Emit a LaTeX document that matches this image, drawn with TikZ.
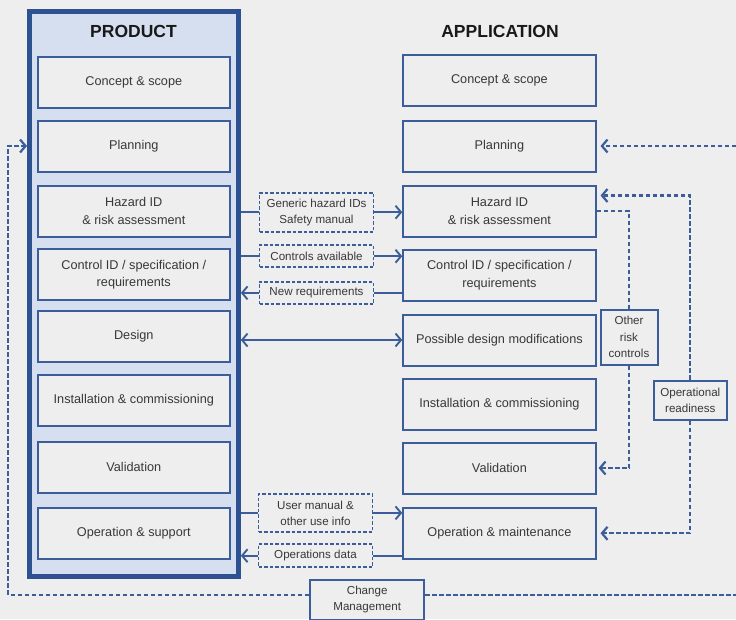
\documentclass[tikz,border=0pt]{standalone}
\usepackage{fontspec}
\setmainfont{Liberation Sans}
\usetikzlibrary{arrows.meta,calc}
\definecolor{bg}{HTML}{EEEEEE}
\definecolor{bblue}{HTML}{3B5E9A}
\definecolor{dblue}{HTML}{2D5191}
\definecolor{lblue}{HTML}{D5DFEF}
\definecolor{txt}{HTML}{383838}
\begin{document}
\begin{tikzpicture}[x=1pt,y=-1pt,
  frame/.style={draw=dblue, line width=5pt, fill=lblue, inner sep=0pt},
  title/.style={font=\bfseries\fontsize{17.5}{20}\selectfont, text=black!90},
  box/.style={draw=bblue, line width=2pt, fill=bg, minimum width=192.3pt, minimum height=51pt,
    inner sep=1pt, align=center, text=txt, font=\fontsize{12.7}{17.5}\selectfont},
  dbox/.style={draw=bblue, line width=1.9pt, dash pattern=on 3.5pt off 2pt, fill=bg,
    minimum width=114pt, inner sep=1pt, align=center, text=txt, font=\fontsize{11.6}{16}\selectfont},
  sbox/.style={draw=bblue, line width=2pt, fill=bg, inner sep=1pt, align=center, text=txt,
    font=\fontsize{11.6}{16.5}\selectfont},
  conn/.style={draw=bblue, line width=1.9pt},
  dconn/.style={conn, line width=2.2pt, dash pattern=on 4.5pt off 2.5pt},
  arr/.style={-{Straight Barb[length=5.5pt,width=13pt]}},
  arrboth/.style={{Straight Barb[length=5.5pt,width=13pt]}-{Straight Barb[length=5.5pt,width=13pt]}}
]
\fill[bg] (0,0) rectangle (736,619);
\useasboundingbox (0,0) rectangle (736,619);

% product frame
\node[frame, minimum width=208.8pt, minimum height=564.7pt] (prod) at (133.9,293.65) {};
\node[title] (tP) at (133.5,31.3) {PRODUCT};
\node[title] (tA) at (500,31.5) {APPLICATION};

% product boxes
\node[box] (p1) at (133.8,82.8) {Concept \& scope};
\node[box] (p2) at (133.8,146) {Planning};
\node[box] (p3) at (133.8,211) {Hazard ID\\\& risk assessment};
\node[box] (p4) at (133.8,274.7) {Control ID / specification /\\requirements};
\node[box] (p5) at (133.8,336) {Design};
\node[box] (p6) at (133.8,400) {Installation \& commissioning};
\node[box] (p7) at (133.8,467) {Validation};
\node[box] (p8) at (133.8,533) {Operation \& support};

% application boxes
\node[box] (a1) at (499.4,80.8) {Concept \& scope};
\node[box] (a2) at (499.4,146) {Planning};
\node[box] (a3) at (499.4,211) {Hazard ID\\\& risk assessment};
\node[box] (a4) at (499.4,275) {Control ID / specification /\\requirements};
\node[box] (a5) at (499.4,340) {Possible design modifications};
\node[box] (a6) at (499.4,404.5) {Installation \& commissioning};
\node[box] (a7) at (499.4,468) {Validation};
\node[box] (a8) at (499.4,533.3) {Operation \& maintenance};

% middle dashed boxes
\node[dbox, minimum height=39pt] (gen) at (316.5,212.2) {Generic hazard IDs\\Safety manual};
\node[dbox, minimum height=22.3pt] (ctl) at (316.5,256.2) {Controls available};
\node[dbox, minimum height=22.3pt] (nreq) at (316.5,292.9) {New requirements};
\node[dbox, minimum height=37.7pt] (um) at (315.5,512.9) {User manual \&\\other use info};
\node[dbox, minimum height=23.3pt] (od) at (315.5,555.7) {Operations data};

% side boxes
\node[sbox, minimum width=57pt, minimum height=55pt] (orc) at (629,337) {Other\\risk\\controls};
\node[sbox, minimum width=72.7pt, minimum height=39.3pt] (opr) at (690.3,400.3) {Operational\\readiness};
\node[sbox, minimum width=114pt, minimum height=40pt] (cm) at (367.2,599.5) {Change\\Management};

% middle connectors
\draw[conn] (prod.east |- gen) -- (gen.west);
\draw[conn,arr] (gen.east) -- (gen.east -| a3.west);
\draw[conn] (prod.east |- ctl) -- (ctl.west);
\draw[conn,arr] (ctl.east) -- (ctl.east -| a4.west);
\draw[conn] (a4.west |- nreq) -- (nreq.east);
\draw[conn,arr] (nreq.west) -- (nreq.west -| prod.east);
\draw[conn,arrboth] (prod.east |- a5) -- (a5.west);
\draw[conn] (prod.east |- um) -- (um.west);
\draw[conn,arr] (um.east) -- (um.east -| a8.west);
\draw[conn] (a8.west |- od) -- (od.east);
\draw[conn,arr] (od.west) -- (od.west -| prod.east);

% right side
\coordinate (rx) at (736,146);
\draw[dconn,arr,shorten >=4pt] (a2.east -| rx) -- (a2.east);
\draw[dconn] (a3.east) -| (orc.north);
\draw[dconn,arr,shorten >=2pt] (orc.south) |- (a7.east);
\draw[dconn,arr,shorten >=4pt] (opr.north) |- ($(a3.north east)+(0,11)$);
\draw[dconn,arr,shorten >=4pt] (opr.south) |- (a8.east);

% change management loop
\coordinate (lx) at (8.3,146);
\draw[dconn,arr] ([yshift=4.5pt]cm.west) -| (lx) -- (lx -| prod.west);
\draw[dconn] ([yshift=4.5pt]cm.east) -- ([yshift=4.5pt]cm.east -| rx);
\end{tikzpicture}
\end{document}
